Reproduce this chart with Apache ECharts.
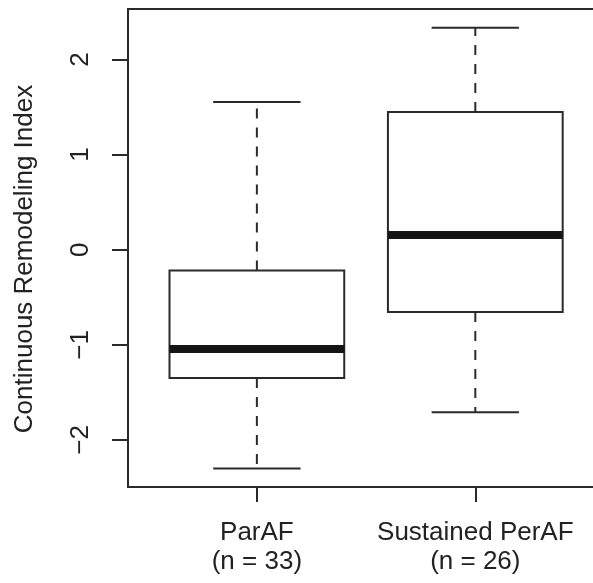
<!DOCTYPE html>
<html>
<head>
<meta charset="utf-8">
<script src="https://cdn.jsdelivr.net/npm/echarts@6/dist/echarts.min.js"></script>
<style>
  html, body { margin: 0; padding: 0; background: #fff; }
  #chart { width: 593px; height: 583px; }
</style>
</head>
<body>
<div id="chart"></div>
<script>
// ---- data ----
var groupNames = ['ParAF', 'Sustained PerAF'];
var groupN = [33, 26];
var groupPos = [1, 2];
var whiskerLow = [-2.30, -1.71];
var q1 = [-1.35, -0.655];
var median = [-1.044, 0.155];
var q3 = [-0.218, 1.448];
var whiskerHigh = [1.553, 2.334];
var yTicks = [-2, -1, 0, 1, 2];
var yTitle = 'Continuous Remodeling Index';

var ink = '#222';
var lineInk = '#2a2a2a';
var fontFam = '"Liberation Sans", Arial, Helvetica, sans-serif';

var seriesData = groupPos.map(function (p, i) {
  return [p, whiskerLow[i], q1[i], median[i], q3[i], whiskerHigh[i]];
});

var chart = echarts.init(document.getElementById('chart'), null, { renderer: 'canvas' });

function renderItem(params, api) {
  var x = api.value(0);
  var lo = api.value(1), a = api.value(2), m = api.value(3), b = api.value(4), hi = api.value(5);
  var boxW = api.size([0.8, 0])[0];
  var capW = api.size([0.4, 0])[0];
  var pLo = api.coord([x, lo]), pA = api.coord([x, a]), pM = api.coord([x, m]);
  var pB = api.coord([x, b]), pHi = api.coord([x, hi]);
  var cx = pA[0];
  var dash = { stroke: lineInk, lineWidth: 2, lineDash: [10, 9] };
  var solid = { stroke: lineInk, lineWidth: 2 };
  return {
    type: 'group',
    children: [
      { type: 'line', shape: { x1: cx, y1: pA[1], x2: cx, y2: pLo[1] }, style: dash },
      { type: 'line', shape: { x1: cx, y1: pB[1], x2: cx, y2: pHi[1] }, style: dash },
      { type: 'line', shape: { x1: cx - capW / 2, y1: pLo[1], x2: cx + capW / 2, y2: pLo[1] }, style: solid },
      { type: 'line', shape: { x1: cx - capW / 2, y1: pHi[1], x2: cx + capW / 2, y2: pHi[1] }, style: solid },
      { type: 'rect', shape: { x: cx - boxW / 2, y: pB[1], width: boxW, height: pA[1] - pB[1] },
        style: { fill: '#fff', stroke: lineInk, lineWidth: 2 } },
      { type: 'line', shape: { x1: cx - boxW / 2, y1: pM[1], x2: cx + boxW / 2, y2: pM[1] },
        style: { stroke: '#151515', lineWidth: 8, lineCap: 'butt' } }
    ]
  };
}

chart.setOption({
  animation: false,
  backgroundColor: '#fff',
  grid: {
    left: 128, top: 9, width: 474, height: 478,
    containLabel: false,
    outerBoundsMode: 'none',
    show: true, borderColor: lineInk, borderWidth: 2, backgroundColor: 'transparent'
  },
  xAxis: {
    type: 'value',
    min: 0.41, max: 2.58,
    splitLine: { show: false },
    axisLine: { show: true, onZero: false, lineStyle: { color: lineInk, width: 2 } },
    axisTick: { show: true, length: 15, customValues: groupPos, lineStyle: { color: lineInk, width: 2 } },
    axisLabel: {
      show: true,
      customValues: groupPos,
      margin: 31,
      color: ink,
      fontFamily: fontFam,
      fontSize: 26,
      lineHeight: 29,
      formatter: function (v) {
        var i = groupPos.indexOf(v);
        return i < 0 ? '' : groupNames[i] + '\n(n = ' + groupN[i] + ')';
      }
    }
  },
  yAxis: {
    type: 'value',
    min: -2.495, max: 2.531,
    splitLine: { show: false },
    axisLine: { show: true, onZero: false, lineStyle: { color: lineInk, width: 2 } },
    axisTick: { show: true, length: 16, customValues: yTicks, lineStyle: { color: lineInk, width: 2 } },
    axisLabel: {
      show: true,
      customValues: yTicks,
      rotate: 90,
      margin: 34,
      color: ink,
      fontFamily: fontFam,
      fontSize: 26,
      formatter: function (v) {
        return v < 0 ? '\u2212' + Math.abs(v) : String(v);
      }
    },
    name: yTitle,
    nameLocation: 'middle',
    nameRotate: 90,
    nameGap: 90,
    nameTextStyle: { color: ink, fontFamily: fontFam, fontSize: 26, padding: [0, 22, 0, 0] }
  },
  series: [{
    type: 'custom',
    renderItem: renderItem,
    encode: { x: 0, y: [1, 2, 3, 4, 5] },
    data: seriesData,
    clip: false
  }]
});
</script>
</body>
</html>
